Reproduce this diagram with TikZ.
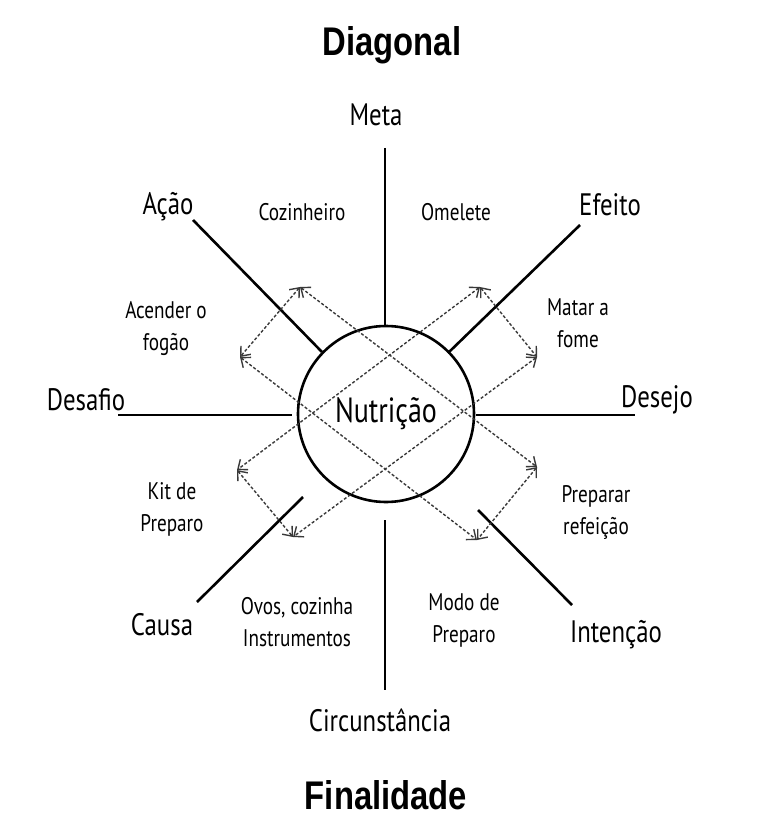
\documentclass[tikz,border=0pt]{standalone}
\usepackage{fontspec}
\newfontfamily\hand{PT Sans}[FakeStretch=0.8]
\newfontfamily\titlefont{Liberation Sans}[FakeStretch=0.82]
\usetikzlibrary{arrows.meta}

\begin{document}
\begin{tikzpicture}[x=1pt,y=-1pt,
  axis/.style={line width=2.6pt},
  flow/.style={gray!45!black,line width=1.4pt,densely dashed,{Straight Barb[length=8pt,width=13pt]}-{Straight Barb[length=8pt,width=13pt]}},
  big/.style={font=\hand\fontsize{31}{33}\selectfont,inner sep=0pt},
  small/.style={font=\hand\fontsize{24}{32}\selectfont,align=center,inner sep=0pt},
  title/.style={font=\titlefont\bfseries\fontsize{40}{44}\selectfont,inner sep=0pt}]
  \useasboundingbox (0,0) rectangle (768,834);
  \node[draw,circle,line width=2.6pt,minimum size=176pt,inner sep=0pt,font=\hand\fontsize{35}{37}\selectfont] (nut) at (386,414) {Nutrição};

  \node[title] (diag) at (392,45) {Diagonal};
  \node[title] (fin) at (386,795) {Finalidade};

  \node[big] (meta) at (376,115) {Meta};
  \node[big] (acao) at (168,207) {Ação};
  \node[big] (efeito) at (610,205) {Efeito};
  \node[big] (desafio) at (86,400) {Desafio};
  \node[big] (desejo) at (657,400) {Desejo};
  \node[big] (causa) at (162,625) {Causa};
  \node[big] (intencao) at (616,635) {Intenção};
  \node[big] (circ) at (380,720) {Circunstância};

  \node[small] (coz) at (302,212) {Cozinheiro};
  \node[small] (omel) at (456,212) {Omelete};
  \node[small] (acender) at (166,329) {Acender o\\fogão};
  \node[small] (matar) at (578,323) {Matar a\\fome};
  \node[small] (kit) at (172,509) {Kit de\\Preparo};
  \node[small] (prep) at (596,512) {Preparar\\refeição};
  \node[small] (ovos) at (297,622) {Ovos, cozinha\\Instrumentos};
  \node[small] (modo) at (464,620) {Modo de\\Preparo};

  \coordinate (t1) at (385,148);
  \coordinate (t2) at (385,326);
  \coordinate (b1) at (385,520);
  \coordinate (b2) at (385,690);
  \coordinate (l1) at (118,415);
  \coordinate (l2) at (292,415);
  \coordinate (r1) at (476,415);
  \coordinate (r2) at (635,415);
  \coordinate (a1) at (193,220);
  \coordinate (a2) at (322,352);
  \coordinate (e1) at (580,225);
  \coordinate (e2) at (448,353);
  \coordinate (c1) at (197,602);
  \coordinate (c2) at (303,497);
  \coordinate (i1) at (572,605);
  \coordinate (i2) at (478,510);

  \draw[axis] (t1) -- (t2);
  \draw[axis] (b1) -- (b2);
  \draw[axis] (l1) -- (l2);
  \draw[axis] (r1) -- (r2);
  \draw[axis] (a1) -- (a2);
  \draw[axis] (e1) -- (e2);
  \draw[axis] (c1) -- (c2);
  \draw[axis] (i1) -- (i2);

  \coordinate (p1) at (300,287);
  \coordinate (p2) at (240,357);
  \coordinate (p3) at (480,287);
  \coordinate (p4) at (537,357);
  \coordinate (p5) at (237,470);
  \coordinate (p6) at (293,537);
  \coordinate (p7) at (537,467);
  \coordinate (p8) at (477,540);

  \draw[flow] (p1) -- (p7);
  \draw[flow] (p2) -- (p8);
  \draw[flow] (p3) -- (p5);
  \draw[flow] (p4) -- (p6);
  \draw[flow] (p1) -- (p2);
  \draw[flow] (p3) -- (p4);
  \draw[flow] (p5) -- (p6);
  \draw[flow] (p7) -- (p8);
\end{tikzpicture}
\end{document}
